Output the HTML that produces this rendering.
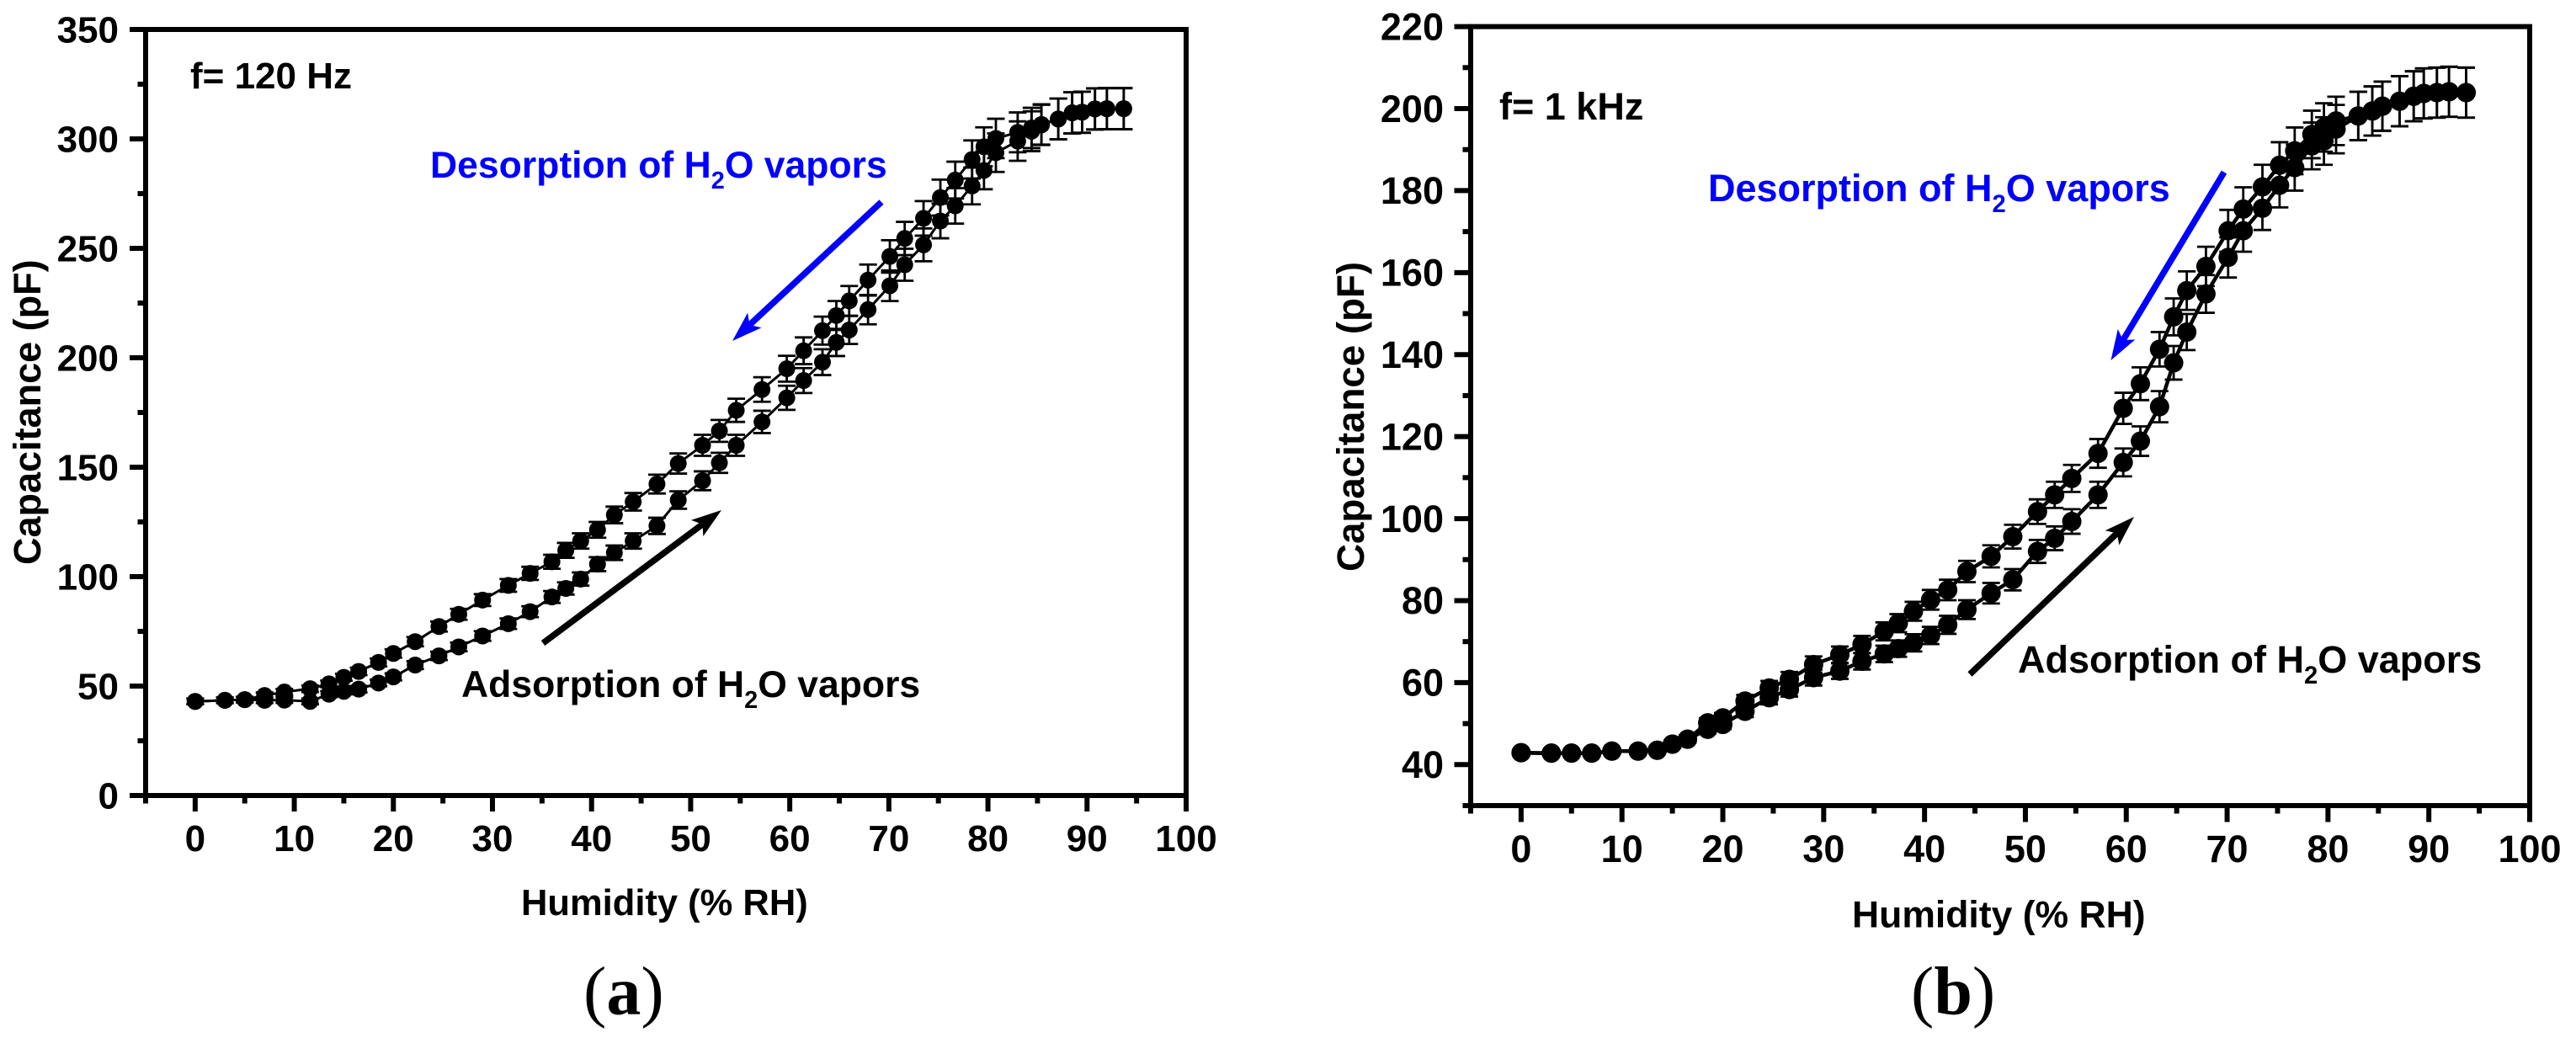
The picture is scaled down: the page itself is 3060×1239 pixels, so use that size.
<!DOCTYPE html>
<html lang="en">
<head>
<meta charset="utf-8">
<title>Capacitance versus humidity hysteresis</title>
<style>
html,body{margin:0;padding:0;background:#fff;}
body{width:3060px;height:1239px;overflow:hidden;}
svg{display:block;}
text{font-family:"Liberation Sans",Arial,sans-serif;font-weight:bold;fill:#000;}
.serif{font-family:"Liberation Serif","Times New Roman",serif;}
</style>
</head>
<body>
<svg id="figure" xmlns="http://www.w3.org/2000/svg" width="3060" height="1239" viewBox="0 0 3060 1239"></svg>
<script>
// Shared chart data
const humidity = [0,3,5,7,9,11.6,13.5,15,16.5,18.5,20,22.2,24.6,26.6,29,31.6,33.8,36,37.4,38.9,40.6,42.3,44.2,46.6,48.75,51.2,52.9,54.6,57.2,59.7,61.4,63.3,64.7,66,67.9,70.1,71.6,73.5,75.2,76.7,78.4,79.6,80.8,83,84.4,85.4,87.1,88.5,89.5,90.8,92,93.7];
const xMajorTicks = [0,10,20,30,40,50,60,70,80,90,100];
const xMinorTicks = [-5,5,15,25,35,45,55,65,75,85,95];

// Panel (a): f = 120 Hz
const desorptionA = [43,43.5,43.8,45.7,47.3,48.8,51,54,56.7,60.8,64.9,70.3,77.2,82.8,89.3,96,101.5,106.8,112,116.3,121.4,128.2,134.2,142.3,151.7,160,166.6,176,185.5,195,203.2,212.4,219.3,226,235.5,246.3,254.5,263.7,273.2,281.2,290.6,296.4,300.2,303,305,306.6,309.1,311.9,312.2,313.7,313.8,313.8];
const adsorptionA = [43,43.5,43.8,43.5,43.6,43,46.3,47.6,48.6,51.4,54.2,59.6,63.8,67.9,72.9,78.5,84,90.7,94.6,98.9,105.7,110.9,116.3,123.2,135,143.8,152,160,170.7,181.7,189.6,198,207,212.7,222,232.9,242.5,251.6,262.5,269.4,278.5,285.6,293.7,299,303.5,306.4,309.1,311.9,312.2,313.7,313.8,313.8];
const desorptionErrA = [1.3,1.3,1.3,1.4,1.4,1.5,1.5,1.6,1.7,1.8,1.9,2.1,2.3,2.5,2.7,2.9,3,3.2,3.4,3.5,3.6,3.8,4,4.3,4.6,4.8,5,5.3,5.6,5.9,6.1,6.4,6.6,6.8,7.1,7.4,7.6,7.9,8.2,8.4,8.7,8.9,9,9.1,9.2,9.2,9.3,9.4,9.4,9.4,9.4,9.4];
const adsorptionErrA = [1.3,1.3,1.3,1.3,1.3,1.3,1.4,1.4,1.5,1.5,1.6,1.8,1.9,2,2.2,2.4,2.5,2.7,2.8,3,3.2,3.3,3.5,3.7,4,4.3,4.6,4.8,5.1,5.5,5.7,5.9,6.2,6.4,6.7,7,7.3,7.5,7.9,8.1,8.4,8.6,8.8,9,9.1,9.2,9.3,9.4,9.4,9.4,9.4,9.4];
const yMajorTicksA = [0,50,100,150,200,250,300,350];
const yMinorTicksA = [25,75,125,175,225,275,325];

// Panel (b): f = 1 kHz
const desorptionB = [42.9,42.8,42.8,42.8,43.3,43.3,43.5,45,46.2,50.2,51.4,55.5,58.7,60.8,64.4,66.8,69.3,72.5,74.5,77.4,80.2,82.6,87.1,90.8,95.6,101.7,105.8,109.8,115.9,126.9,132.9,141.3,149.2,155.6,161.5,170.2,175.5,180.9,186.2,189.7,193.7,195.4,197,198.2,199.4,200.6,201.8,203,203.7,203.9,204.1,203.9];
const adsorptionB = [42.9,42.8,42.8,42.8,43.3,43.3,43.5,45,46.2,48.6,49.8,53,56.3,58.3,61.2,62.8,65.2,67,68.3,69.7,71.5,74.1,77.8,81.8,85.1,92,95.2,99.3,105.8,113.7,118.9,127.3,138,145.5,154.8,163.7,170.2,175.7,181.3,185.6,190.9,192.1,195,198.2,199.4,200.6,201.8,203,203.7,203.9,204.1,203.9];
const desorptionErrB = [0.5,0.5,0.5,0.5,0.6,0.6,0.7,0.8,0.9,1.1,1.2,1.5,1.7,1.8,2,2,2.1,2.2,2.2,2.3,2.4,2.5,2.6,2.7,2.9,3,3.2,3.3,3.5,3.8,4,4.2,4.5,4.7,4.8,5.1,5.3,5.4,5.6,5.7,5.8,5.9,5.9,5.9,6,6,6.1,6.1,6.1,6.1,6.1,6.1];
const adsorptionErrB = [0.5,0.5,0.5,0.5,0.6,0.6,0.7,0.8,0.9,1,1.1,1.4,1.6,1.7,1.9,1.9,2,2,2,2.1,2.1,2.2,2.3,2.5,2.6,2.8,2.9,3,3.2,3.4,3.6,3.8,4.1,4.4,4.6,4.9,5.1,5.3,5.4,5.6,5.7,5.8,5.9,5.9,6,6,6.1,6.1,6.1,6.1,6.1,6.1];
const yMajorTicksB = [40,60,80,100,120,140,160,180,200,220];
const yMinorTicksB = [30,50,70,90,110,130,150,170,190,210];

const SVG_NS = 'http://www.w3.org/2000/svg';
const figure = document.getElementById('figure');

function mk(parent, tag, attrs, content) {
  const el = document.createElementNS(SVG_NS, tag);
  for (const k in attrs) el.setAttribute(k, attrs[k]);
  if (content !== undefined) el.textContent = content;
  parent.appendChild(el);
  return el;
}

function addVaporLabel(parent, x, y, size, color, leading) {
  const t = mk(parent, 'text', {x: x, y: y, 'font-size': size, style: 'fill:' + color, 'xml:space': 'preserve'});
  
  
  t.appendChild(document.createTextNode(leading + ' of H'));
  mk(t, 'tspan', {'font-size': size * 0.65, dy: 13}, '2');
  mk(t, 'tspan', {dy: -13}, 'O vapors');
  return t;
}

function addArrow(parent, x1, y1, x2, y2, color, name) {
  const g = mk(parent, 'g', {});
  
  
  const dx = x2 - x1, dy = y2 - y1, len = Math.hypot(dx, dy), ux = dx / len, uy = dy / len;
  const headLen = 36, headHalf = 12, notch = 28;
  const shaftEnd = [x2 - ux * notch, y2 - uy * notch];
  mk(g, 'line', {x1: x1, y1: y1, x2: shaftEnd[0], y2: shaftEnd[1], stroke: color, 'stroke-width': 7.5});
  const bx = x2 - ux * headLen, by = y2 - uy * headLen;
  mk(g, 'polygon', {
    points: [x2, y2, bx - uy * headHalf, by + ux * headHalf, shaftEnd[0], shaftEnd[1], bx + uy * headHalf, by - ux * headHalf].join(','),
    fill: color
  });
}

function drawPanel(cfg) {
  const panel = mk(figure, 'g', {});
  
  

  const sx = v => cfg.left + (v - cfg.xMin) / (cfg.xMax - cfg.xMin) * (cfg.right - cfg.left);
  const sy = v => cfg.bottom - (v - cfg.yMin) / (cfg.yMax - cfg.yMin) * (cfg.bottom - cfg.top);

  // Series (drawn first; frame on top)
  const seriesDefs = [
    {name: 'desorption', values: cfg.desorption, errors: cfg.desorptionErr},
    {name: 'adsorption', values: cfg.adsorption, errors: cfg.adsorptionErr}
  ];
  seriesDefs.forEach(s => {
    const g = mk(panel, 'g', {});
    
    
    const pts = humidity.map((h, i) => sx(h).toFixed(1) + ',' + sy(s.values[i]).toFixed(1)).join(' ');
    const line = mk(g, 'polyline', {points: pts, fill: 'none', stroke: '#000', 'stroke-width': cfg.lineWidth});
    
    
    humidity.forEach((h, i) => {
      const cx = sx(h), hi = sy(s.values[i] + s.errors[i]), lo = sy(s.values[i] - s.errors[i]);
      const bar = mk(g, 'path', {
        d: 'M' + (cx - cfg.cap) + ' ' + hi + 'H' + (cx + cfg.cap) + 'M' + cx + ' ' + hi + 'V' + lo + 'M' + (cx - cfg.cap) + ' ' + lo + 'H' + (cx + cfg.cap),
        fill: 'none', stroke: '#000', 'stroke-width': 2.8
      });
      
      
    });
    humidity.forEach((h, i) => {
      const dot = mk(g, 'circle', {cx: sx(h), cy: sy(s.values[i]), r: cfg.markerR, fill: '#000'});
      
      
    });
  });

  // Frame
  const frame = mk(panel, 'rect', {x: cfg.left, y: cfg.top, width: cfg.right - cfg.left, height: cfg.bottom - cfg.top, fill: 'none', stroke: '#000', 'stroke-width': 6});
  
  

  // X axis
  xMajorTicks.forEach(v => {
    const tick = mk(panel, 'line', {x1: sx(v), x2: sx(v), y1: cfg.bottom, y2: cfg.bottom + cfg.majorLen, stroke: '#000', 'stroke-width': 6});
    
    
    const label = mk(panel, 'text', {x: sx(v), y: cfg.xLabelY, 'text-anchor': 'middle', 'font-size': cfg.fontSize}, String(v));
    
    
  });
  xMinorTicks.forEach(v => {
    const tick = mk(panel, 'line', {x1: sx(v), x2: sx(v), y1: cfg.bottom, y2: cfg.bottom + cfg.minorLen, stroke: '#000', 'stroke-width': 6});
    
    
  });

  // Y axis
  cfg.yMajor.forEach(v => {
    const tick = mk(panel, 'line', {x1: cfg.left, x2: cfg.left - cfg.majorLen, y1: sy(v), y2: sy(v), stroke: '#000', 'stroke-width': 6});
    
    
    const label = mk(panel, 'text', {x: cfg.yLabelX, y: sy(v) + cfg.fontSize * 0.35, 'text-anchor': 'end', 'font-size': cfg.fontSize}, String(v));
    
    
  });
  cfg.yMinor.forEach(v => {
    const tick = mk(panel, 'line', {x1: cfg.left, x2: cfg.left - cfg.minorLen, y1: sy(v), y2: sy(v), stroke: '#000', 'stroke-width': 6});
    
    
  });

  // Titles
  const xTitle = mk(panel, 'text', {x: cfg.xTitleX, y: cfg.xTitleY, 'font-size': cfg.titleSize}, 'Humidity (% RH)');
  
  
  const yTitle = mk(panel, 'text', {transform: 'translate(' + cfg.yTitleX + ' ' + cfg.yTitleY + ') rotate(-90)', 'font-size': cfg.yTitleSize}, 'Capacitance (pF)');
  
  

  // Annotations
  const freq = mk(panel, 'text', {x: cfg.freqX, y: cfg.freqY, 'font-size': cfg.fontSize}, cfg.freq);
  
  
  addVaporLabel(panel, cfg.desX, cfg.desY, cfg.annotSize, '#0000ff', 'Desorption');
  addVaporLabel(panel, cfg.adsX, cfg.adsY, cfg.annotSize, '#000', 'Adsorption');
  addArrow(panel, cfg.blueArrow[0], cfg.blueArrow[1], cfg.blueArrow[2], cfg.blueArrow[3], '#0000ff', 'desorption-arrow');
  addArrow(panel, cfg.blackArrow[0], cfg.blackArrow[1], cfg.blackArrow[2], cfg.blackArrow[3], '#000', 'adsorption-arrow');

  // Panel caption
  const cap = mk(panel, 'text', {class: 'serif', x: cfg.capX, y: 1204.5, 'font-size': 82, style: 'font-weight:normal'});
  
  
  mk(cap, 'tspan', {}, '(');
  mk(cap, 'tspan', {style: 'font-weight:bold'}, cfg.capLetter);
  mk(cap, 'tspan', {}, ')');
}

drawPanel({
  id: 'panel-a', left: 173, right: 1409, top: 35, bottom: 945,
  xMin: -5, xMax: 100, yMin: 0, yMax: 350,
  desorption: desorptionA, adsorption: adsorptionA, desorptionErr: desorptionErrA, adsorptionErr: adsorptionErrA,
  yMajor: yMajorTicksA, yMinor: yMinorTicksA,
  markerR: 10, cap: 10.5, lineWidth: 3,
  majorLen: 19, minorLen: 9.5, fontSize: 44, annotSize: 44.5, titleSize: 43.5, yTitleSize: 45,
  xLabelY: 1011, yLabelX: 141, xTitleX: 619, xTitleY: 1087, yTitleX: 48, yTitleY: 671,
  freq: 'f= 120 Hz', freqX: 226, freqY: 105,
  desX: 511, desY: 211, adsX: 548, adsY: 828,
  blueArrow: [1047, 240, 870, 405], blackArrow: [645, 764, 857, 606],
  capX: 693, capLetter: 'a'
});

drawPanel({
  id: 'panel-b', left: 1747, right: 3005, top: 31.6, bottom: 957,
  xMin: -5, xMax: 100, yMin: 30, yMax: 220,
  desorption: desorptionB, adsorption: adsorptionB, desorptionErr: desorptionErrB, adsorptionErr: adsorptionErrB,
  yMajor: yMajorTicksB, yMinor: yMinorTicksB,
  markerR: 11.5, cap: 10.5, lineWidth: 4.5,
  majorLen: 19.5, minorLen: 9.5, fontSize: 45, annotSize: 45, titleSize: 44.5, yTitleSize: 45.7,
  xLabelY: 1024, yLabelX: 1715, xTitleX: 2200, xTitleY: 1101.5, yTitleX: 1620, yTitleY: 679,
  freq: 'f= 1 kHz', freqX: 1781, freqY: 142,
  desX: 2029, desY: 239, adsX: 2397, adsY: 799,
  blueArrow: [2642, 204.5, 2507.5, 428], blackArrow: [2340, 801, 2535, 614],
  capX: 2270, capLetter: 'b'
});
</script>
</body>
</html>
